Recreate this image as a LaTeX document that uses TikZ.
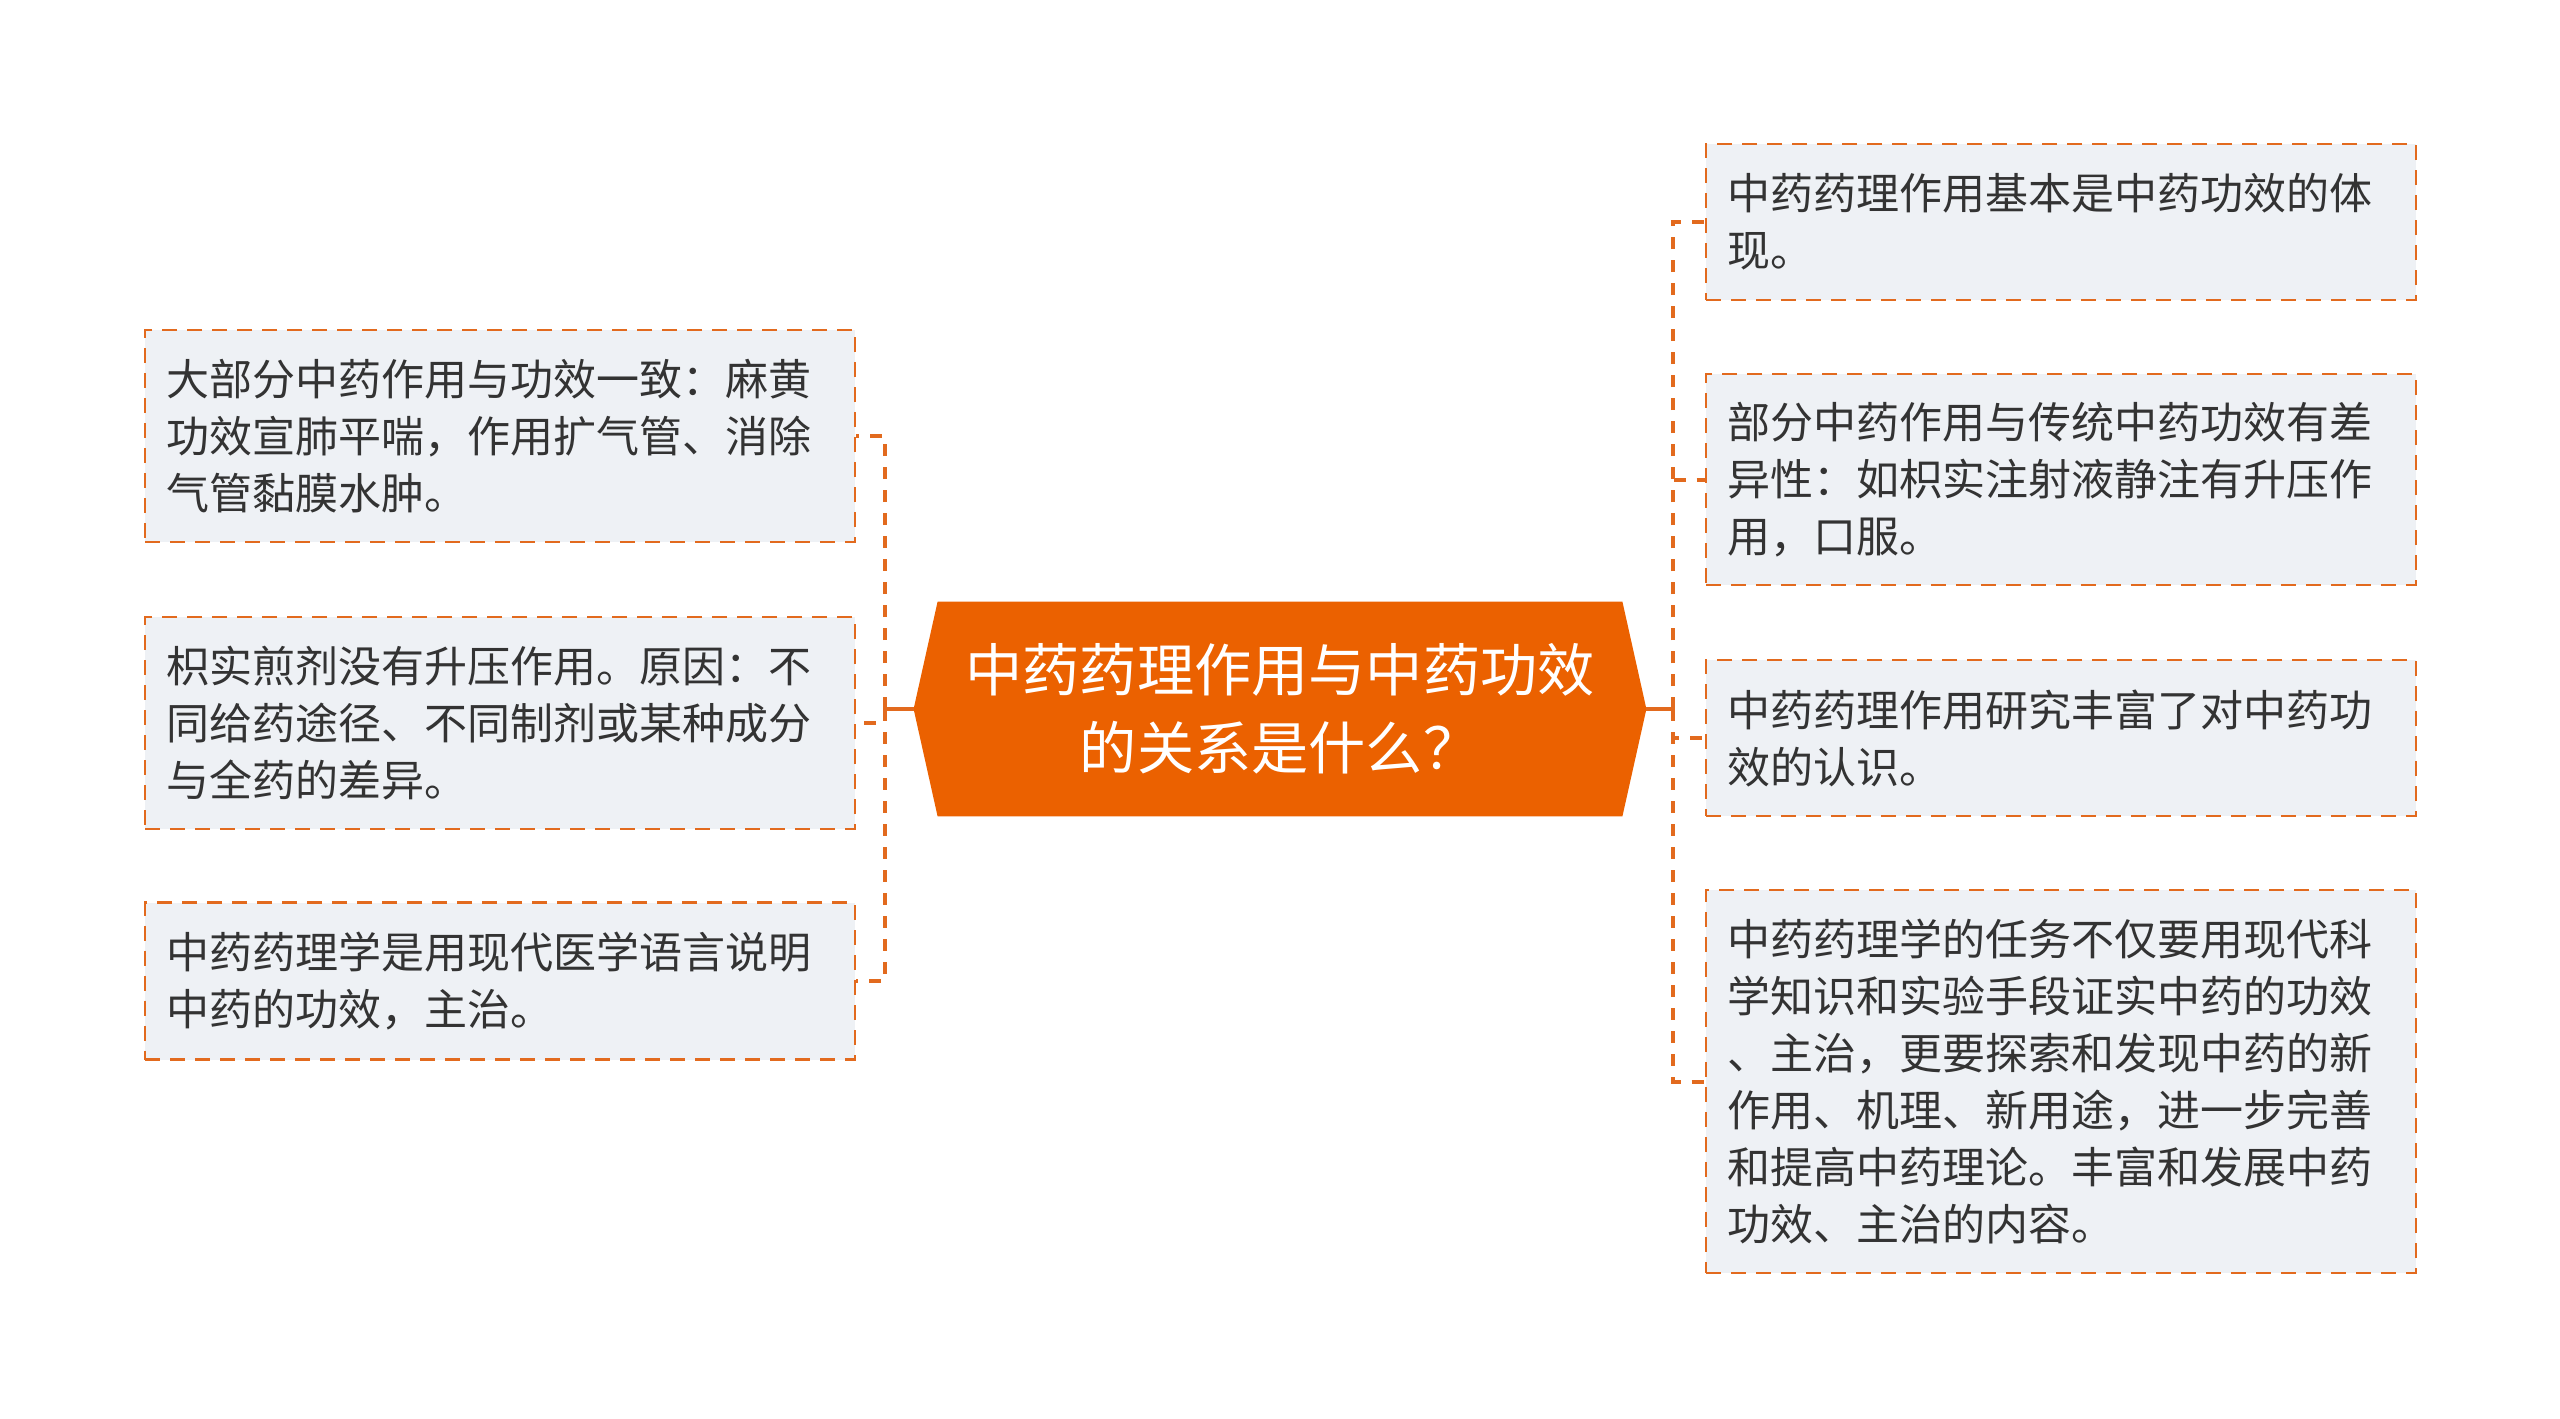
\documentclass[tikz,border=0pt]{standalone}
\usepackage{fontspec}
\setmainfont{Noto Sans CJK SC}
\usetikzlibrary{positioning,calc}
\pgfdeclarelayer{bg}
\pgfsetlayers{bg,main}
\definecolor{topicorange}{RGB}{235,97,0}
\definecolor{leafline}{RGB}{226,106,30}
\definecolor{leaffill}{RGB}{238,241,245}
\definecolor{leaftext}{RGB}{51,51,51}
\tikzset{leaf/.style={anchor=west, draw=leafline, line width=1.1pt, dash pattern=on 7.5pt off 5pt, fill=leaffill, text width=334pt, inner xsep=10.5pt, inner ysep=0pt, align=left, text=leaftext, font=\fontsize{21.5pt}{28.5pt}\selectfont}}
\tikzset{link/.style={draw=leafline, line width=2pt, dash pattern=on 6pt off 5.5pt}}
\tikzset{stem/.style={draw=leafline, line width=1.7pt}}
\tikzset{topic/.style={minimum width=366pt, minimum height=107pt, inner sep=0pt, text=white, align=center, font=\fontsize{28.6pt}{39pt}\selectfont}}
\begin{document}
\begin{tikzpicture}[x=0.5pt,y=-0.5pt]
\useasboundingbox (0,0) rectangle (2560,1419);
% central topic
\node[topic] (root) at (1280,709) {中药药理作用与中药功效\\的关系是什么？};
\begin{pgfonlayer}{bg}
\fill[topicorange] ($(root.north west)+(24,0)$) -- ($(root.north east)+(-24,0)$) -- (root.east)
  -- ($(root.south east)+(-24,0)$) -- ($(root.south west)+(24,0)$) -- (root.west) -- cycle;
\end{pgfonlayer}
% left side
\node[leaf, minimum height=106pt] (L1) at (144,436) {大部分中药作用与功效一致：麻黄\\功效宣肺平喘，作用扩气管、消除\\气管黏膜水肿。};
\node[leaf, minimum height=106pt] (L2) at (144,723) {枳实煎剂没有升压作用。原因：不\\同给药途径、不同制剂或某种成分\\与全药的差异。};
\node[leaf, minimum height=78.5pt] (L3) at (144,981) {中药药理学是用现代医学语言说明\\中药的功效，主治。};
% right side
\node[leaf, minimum height=78pt] (R1) at (1705,222) {中药药理作用基本是中药功效的体\\现。};
\node[leaf, minimum height=105.5pt] (R2) at (1705,479.5) {部分中药作用与传统中药功效有差\\异性：如枳实注射液静注有升压作\\用，口服。};
\node[leaf, minimum height=78pt] (R3) at (1705,738) {中药药理作用研究丰富了对中药功\\效的认识。};
\node[leaf, minimum height=191.5pt] (R4) at (1705,1081.5) {中药药理学的任务不仅要用现代科\\学知识和实验手段证实中药的功效\\、主治，更要探索和发现中药的新\\作用、机理、新用途，进一步完善\\和提高中药理论。丰富和发展中药\\功效、主治的内容。};
% connectors
\coordinate (lj) at (885,709);
\coordinate (rj) at (1673,709);
\draw[stem] (root.west) -- (lj);
\foreach \n in {L1,L2,L3}
  \draw[link] (lj) |- (\n.east);
\draw[stem] (root.east) -- (rj);
\foreach \n in {R1,R2,R3,R4}
  \draw[link] (rj) |- (\n.west);
\end{tikzpicture}
\end{document}
